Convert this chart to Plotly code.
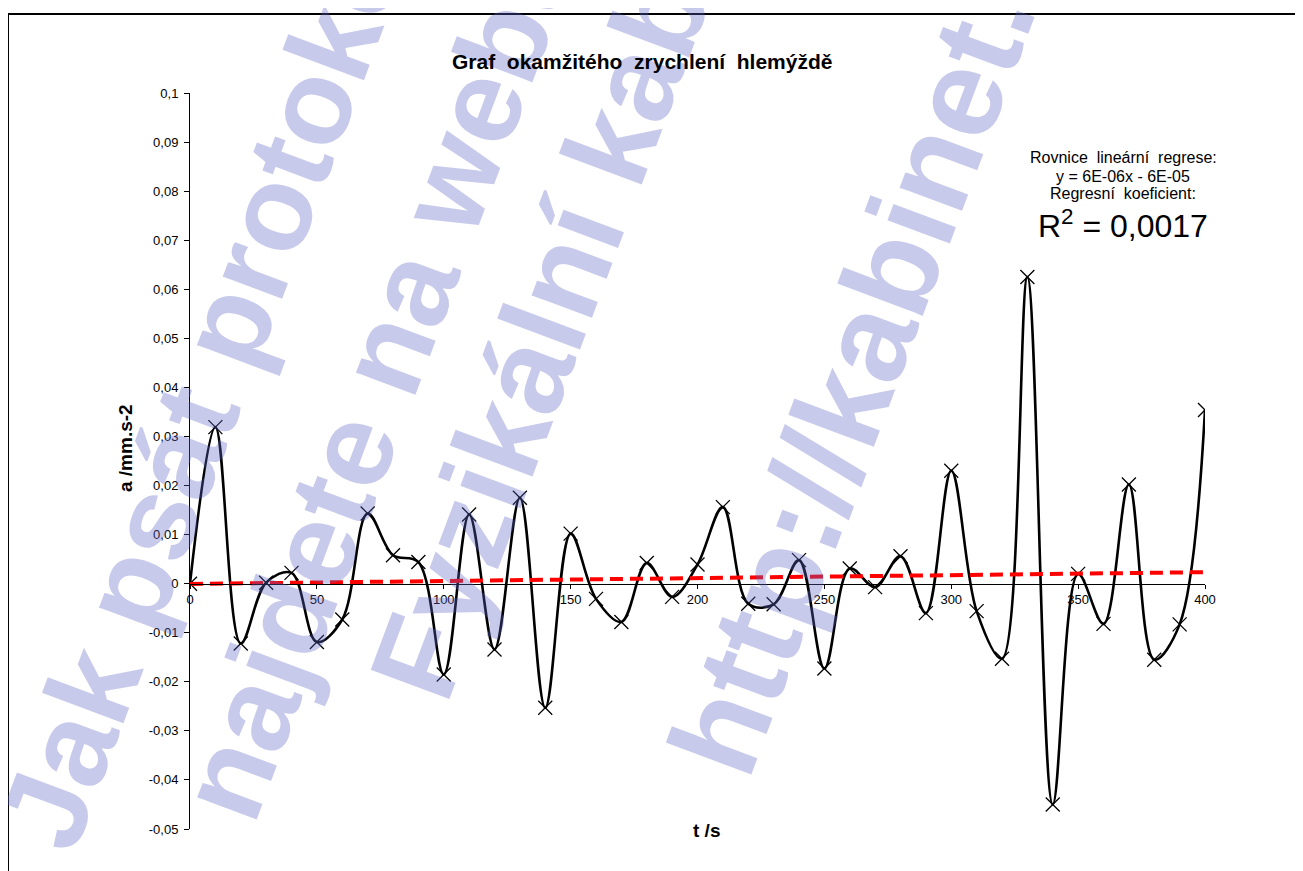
import plotly.graph_objects as go

# ---------------- data ----------------
t_s = [0, 10, 20, 30, 40, 50, 60, 70, 80, 90, 100, 110, 120, 130, 140, 150, 160, 170, 180, 190, 200,
       210, 220, 230, 240, 250, 260, 270, 280, 290, 300, 310, 320, 330, 340, 350, 360, 370, 380, 390, 400]
a_mm = [0.0, 0.0319, -0.0122, 0.0002, 0.0022, -0.0119, -0.0073, 0.0143, 0.0058, 0.0044, -0.0185,
        0.0141, -0.0134, 0.0175, -0.0253, 0.0102, -0.0031, -0.0078, 0.0042, -0.0027, 0.0039,
        0.0156, -0.0041, -0.0042, 0.0048, -0.0173, 0.0031, -0.0007, 0.0056, -0.0060, 0.0230,
        -0.0056, -0.0153, 0.0625, -0.0450, 0.0020, -0.0082, 0.0202, -0.0155, -0.0083, 0.0354]

trend_slope = 6e-06
trend_intercept = -6e-05
trend_x = [0, 400]

x_tickvals = [0, 50, 100, 150, 200, 250, 300, 350, 400]
x_ticktext = ["0", "50", "100", "150", "200", "250", "300", "350", "400"]
y_tickvals = [0.1, 0.09, 0.08, 0.07, 0.06, 0.05, 0.04, 0.03, 0.02, 0.01, 0,
              -0.01, -0.02, -0.03, -0.04, -0.05]
y_ticktext = ["0,1", "0,09", "0,08", "0,07", "0,06", "0,05", "0,04", "0,03", "0,02", "0,01", "0",
              "-0,01", "-0,02", "-0,03", "-0,04", "-0,05"]

NB = "\u00a0 "
title_text = NB.join(["Graf", "okamžitého", "zrychlení", "hlemýždě"])
x_title = "t /s"
y_title = "a /mm.s-2"
reg_lines = [NB.join(["Rovnice", "lineární", "regrese:"]),
             "y = 6E-06x - 6E-05",
             NB.join(["Regresní", "koeficient:"])]
r2_text = "R<sup>2</sup> = 0,0017"
watermark_lines = ["Jak psát protokoly", "najdete na webu", "Fyzikální kabinet",
                   "http://kabinet.fyzika.net"]

# ---------------- geometry helpers (page pixel coords; body has 8px margin) ----------------
W, H = 1303, 871
OFF = 8
PLOT_L, PLOT_R, PLOT_T, PLOT_B = 190, 1205, 93, 829   # page coords of the plot area
L = PLOT_L - OFF
T = PLOT_T - OFF
R = W - (PLOT_R - OFF)
B = H - (PLOT_B - OFF)
PW, PH = PLOT_R - PLOT_L, PLOT_B - PLOT_T


def px(x):
    return (x - PLOT_L) / PW


def py(y):
    return (PLOT_B - y) / PH


FONT = "Liberation Sans, Arial, sans-serif"

fig = go.Figure()

fig.add_trace(go.Scatter(
    x=t_s, y=a_mm, mode="lines+markers",
    line=dict(color="black", width=2.6, shape="spline", smoothing=1.0),
    marker=dict(symbol="x-thin", size=14, color="black",
                line=dict(color="black", width=1.3)),
    showlegend=False, hoverinfo="x+y"))

trend_y = [trend_slope * x + trend_intercept for x in trend_x]
fig.add_trace(go.Scatter(
    x=trend_x, y=trend_y, mode="lines",
    line=dict(color="#ff0000", width=4, dash="13px,7px"),
    showlegend=False, hoverinfo="skip"))

annotations = []
# watermark
wm_pos = [(220, 345), (378, 375), (578, 235), (953, 112)]
wm_size = [120, 120, 122, 126]
for txt, (wx, wy), sz in zip(watermark_lines, wm_pos, wm_size):
    annotations.append(dict(
        x=px(wx), y=py(wy), xref="paper", yref="paper", text="<b>%s</b>" % txt,
        showarrow=False, textangle=-69.5, xanchor="center", yanchor="middle",
        font=dict(family=FONT, size=sz, color="rgba(95,100,195,0.34)")))

annotations.append(dict(
    x=px(642), y=py(62), xref="paper", yref="paper", text="<b>%s</b>" % title_text,
    showarrow=False, xanchor="center", yanchor="middle",
    font=dict(family=FONT, size=21, color="black")))
annotations.append(dict(
    x=px(706), y=py(830), xref="paper", yref="paper", text="<b>%s</b>" % x_title,
    showarrow=False, xanchor="center", yanchor="middle",
    font=dict(family=FONT, size=19, color="black")))
annotations.append(dict(
    x=px(125), y=py(448), xref="paper", yref="paper", text="<b>%s</b>" % y_title,
    showarrow=False, xanchor="center", yanchor="middle", textangle=-90,
    font=dict(family=FONT, size=19, color="black")))
for txt, yy in zip(reg_lines, [157, 176, 194]):
    annotations.append(dict(
        x=px(1123), y=py(yy), xref="paper", yref="paper", text=txt,
        showarrow=False, xanchor="center", yanchor="middle",
        font=dict(family=FONT, size=16, color="black")))
annotations.append(dict(
    x=px(1123), y=py(224), xref="paper", yref="paper", text=r2_text,
    showarrow=False, xanchor="center", yanchor="middle",
    font=dict(family=FONT, size=32, color="black")))

fig.update_layout(
    width=W, height=H,
    margin=dict(l=L, r=R, t=T, b=B, pad=0),
    paper_bgcolor="white", plot_bgcolor="rgba(0,0,0,0)",
    font=dict(family=FONT, size=13, color="black"),
    annotations=annotations,
    shapes=[dict(type="rect", xref="paper", yref="paper",
                 x0=px(8), x1=px(1330), y0=py(900), y1=py(14),
                 line=dict(color="black", width=2), fillcolor="rgba(0,0,0,0)",
                 layer="below")],
    xaxis=dict(range=[0, 400], showgrid=False, zeroline=False,
               showline=True, linecolor="black", linewidth=1,
               ticks="outside", ticklen=4, tickcolor="black",
               tickvals=x_tickvals, ticktext=x_ticktext,
               anchor="free", position=1 / 3,
               tickfont=dict(family=FONT, size=13, color="black")),
    yaxis=dict(range=[-0.05, 0.1], showgrid=False, zeroline=False,
               showline=True, linecolor="black", linewidth=1,
               ticks="outside", ticklen=5, tickcolor="black",
               ticklabelstandoff=3,
               tickvals=y_tickvals, ticktext=y_ticktext,
               tickfont=dict(family=FONT, size=13, color="black")),
)

fig.write_html("out.html")
